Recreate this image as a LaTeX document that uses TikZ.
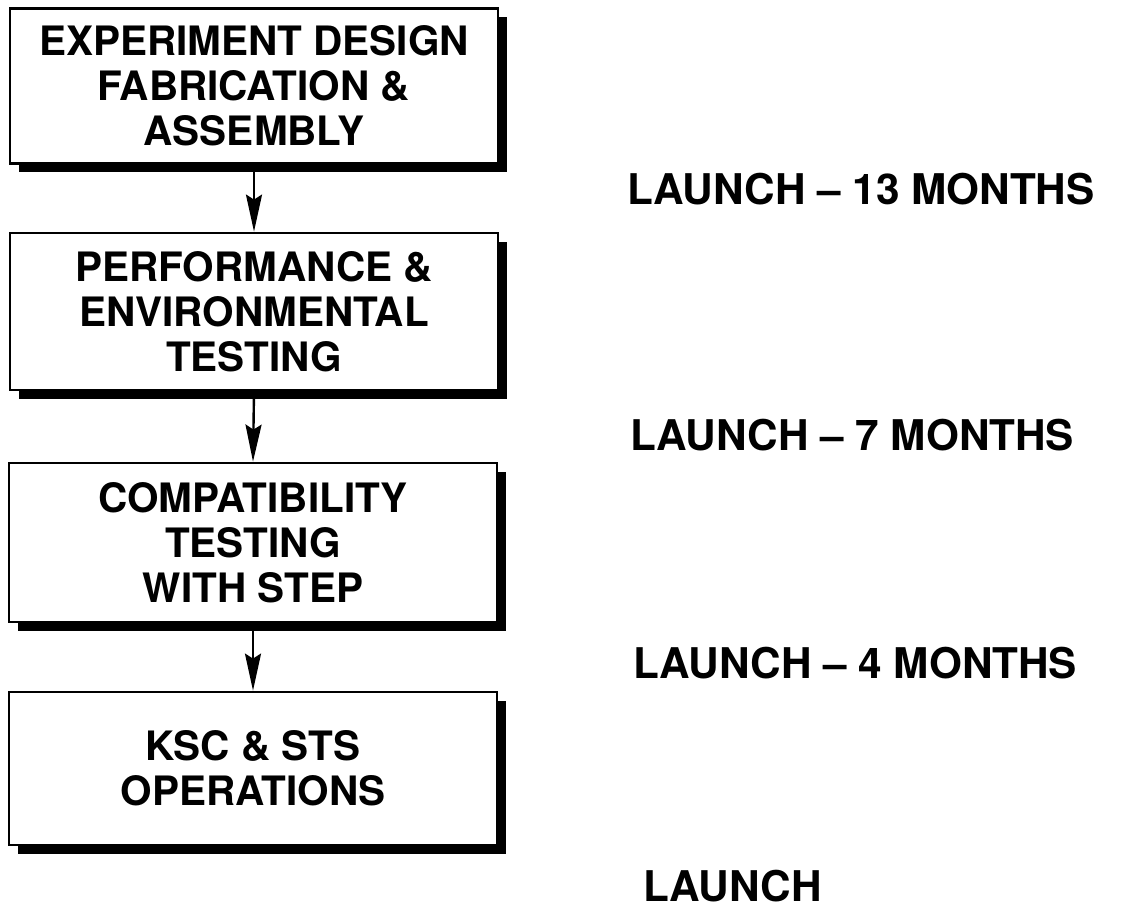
\documentclass[tikz,border=0pt]{standalone}
\usepackage{fontspec}
\setmainfont{TeX Gyre Heros}
\usetikzlibrary{arrows.meta,shadows}
\begin{document}
\begin{tikzpicture}[x=1pt,y=-1pt,
  stagebox/.style={draw=black,line width=2.8pt,fill=white,inner sep=0pt,
    minimum width=488pt,align=center,
    font=\fontsize{40.5}{45}\selectfont\bfseries,
    drop shadow={shadow xshift=9pt,shadow yshift=-9pt,fill=black,opacity=1}},
  milestone/.style={anchor=base west,inner sep=0pt,
    font=\fontsize{42.3}{48}\selectfont\bfseries},
  flowarrow/.style={line width=2.4pt,-{Stealth[length=37pt,width=16pt,inset=5pt]}}]
\useasboundingbox (0,0) rectangle (1139,909);
\node[stagebox,minimum height=155pt] (b1) at (254,86) {EXPERIMENT DESIGN\\FABRICATION \&\\ASSEMBLY};
\node[stagebox,minimum height=157pt] (b2) at (254,311.5) {PERFORMANCE \&\\ENVIRONMENTAL\\TESTING};
\node[stagebox,minimum height=159pt] (b3) at (253,542.5) {COMPATIBILITY\\TESTING\\WITH STEP};
\node[stagebox,minimum height=153pt] (b4) at (253,768.5) {KSC \& STS\\OPERATIONS};
\draw[flowarrow] (b1.south) -- (b2.north);
\draw[flowarrow] (b2.south) -- (b3.north);
\draw[flowarrow] (b3.south) -- (b4.north);
\node[milestone] (m1) at (627,205) {LAUNCH -- 13 MONTHS};
\node[milestone] (m2) at (630,450) {LAUNCH -- 7 MONTHS};
\node[milestone] (m3) at (633,678) {LAUNCH -- 4 MONTHS};
\node[milestone] (m4) at (643,901) {LAUNCH};
\end{tikzpicture}
\end{document}
